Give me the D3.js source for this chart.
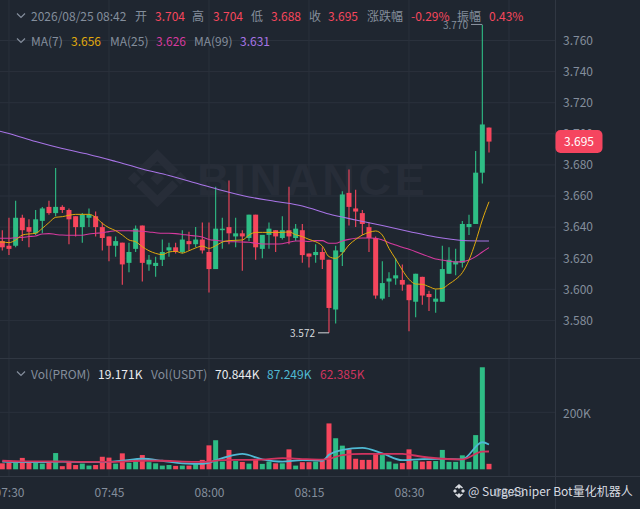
<!DOCTYPE html>
<html><head><meta charset="utf-8">
<script src="https://cdn.jsdelivr.net/npm/d3@7"></script>
<style>
html,body{margin:0;padding:0;background:#1f2630;overflow:hidden}
svg{display:block}
text{font-family:"Noto Sans CJK SC","Noto Sans",sans-serif}
.axis path,.axis line{display:none}
</style></head><body><svg id="c" width="640" height="509"></svg>
<script>
const opens=[3.631,3.628,3.628,3.646,3.640,3.636,3.644,3.653,3.649,3.653,3.651,3.647,3.640,3.646,3.647,3.640,3.634,3.628,3.630,3.617,3.626,3.641,3.616,3.615,3.619,3.625,3.627,3.624,3.631,3.629,3.632,3.624,3.613,3.638,3.640,3.634,3.636,3.633,3.648,3.626,3.635,3.638,3.633,3.638,3.633,3.638,3.623,3.622,3.624,3.619,3.587,3.624,3.662,3.652,3.649,3.640,3.633,3.594,3.605,3.607,3.606,3.603,3.592,3.608,3.597,3.592,3.592,3.610,3.616,3.617,3.640,3.642,3.675,3.704];
const highs=[3.638,3.646,3.657,3.648,3.645,3.651,3.653,3.657,3.678,3.654,3.652,3.647,3.649,3.652,3.650,3.643,3.634,3.634,3.630,3.630,3.641,3.641,3.622,3.621,3.632,3.630,3.630,3.638,3.637,3.640,3.643,3.643,3.666,3.646,3.670,3.646,3.638,3.648,3.648,3.635,3.643,3.638,3.647,3.666,3.642,3.642,3.623,3.629,3.627,3.619,3.628,3.663,3.677,3.664,3.651,3.643,3.634,3.618,3.611,3.620,3.616,3.603,3.610,3.608,3.599,3.600,3.628,3.627,3.626,3.644,3.648,3.689,3.770,3.704];
const lows=[3.625,3.622,3.627,3.631,3.627,3.635,3.636,3.648,3.647,3.649,3.629,3.634,3.630,3.640,3.634,3.625,3.618,3.621,3.603,3.611,3.624,3.605,3.612,3.608,3.615,3.621,3.623,3.623,3.625,3.627,3.623,3.598,3.613,3.626,3.629,3.627,3.612,3.631,3.619,3.620,3.626,3.624,3.632,3.629,3.631,3.617,3.614,3.617,3.613,3.572,3.578,3.615,3.641,3.640,3.635,3.624,3.594,3.593,3.595,3.603,3.599,3.573,3.582,3.590,3.586,3.585,3.592,3.610,3.609,3.614,3.635,3.642,3.668,3.688];
const closes=[3.627,3.626,3.646,3.638,3.637,3.645,3.652,3.649,3.653,3.651,3.645,3.640,3.648,3.648,3.640,3.633,3.628,3.631,3.616,3.624,3.639,3.617,3.619,3.617,3.624,3.627,3.624,3.632,3.629,3.632,3.625,3.613,3.639,3.639,3.636,3.636,3.634,3.648,3.627,3.635,3.639,3.634,3.638,3.634,3.639,3.622,3.621,3.624,3.619,3.588,3.625,3.661,3.653,3.650,3.642,3.633,3.596,3.604,3.607,3.609,3.603,3.593,3.610,3.596,3.595,3.594,3.613,3.619,3.618,3.642,3.642,3.675,3.706,3.695];
const volumes=[21,23,27,40,23,25,20,25,57,11,25,15,20,13,15,44,41,20,56,23,27,50,25,21,13,15,12,13,13,18,33,84,102,27,68,29,26,20,33,19,27,21,21,70,13,25,25,27,29,161,109,83,70,37,33,33,53,50,27,20,22,70,30,27,29,29,68,26,26,49,26,120,358,19.171];
// price moving averages, one value per minute from 07:28 (the first is off-screen)
const ma7=[3.6304,3.6304,3.6300,3.6317,3.6349,3.6356,3.6360,3.6392,3.6429,3.6463,3.6467,3.6476,3.6482,3.6482,3.6482,3.6463,3.6424,3.6396,3.6377,3.6349,3.6317,3.6306,3.6274,3.6248,3.6231,3.6223,3.6240,3.6244,3.6233,3.6248,3.6266,3.6278,3.6263,3.6280,3.6304,3.6313,3.6315,3.6317,3.6349,3.6366,3.6366,3.6366,3.6366,3.6366,3.6369,3.6351,3.6339,3.6321,3.6306,3.6278,3.6210,3.6199,3.6231,3.6285,3.6321,3.6349,3.6366,3.6375,3.6349,3.6263,3.6195,3.6124,3.6064,3.6034,3.6032,3.6017,3.6002,3.6006,3.6034,3.6064,3.6107,3.6188,3.6306,3.6446,3.6563];
const ma25=[3.6328,3.6328,3.6328,3.6332,3.6334,3.6339,3.6343,3.6356,3.6358,3.6353,3.6349,3.6347,3.6347,3.6347,3.6356,3.6360,3.6364,3.6371,3.6377,3.6377,3.6377,3.6375,3.6373,3.6369,3.6364,3.6360,3.6360,3.6358,3.6353,3.6347,3.6343,3.6336,3.6321,3.6315,3.6311,3.6306,3.6306,3.6304,3.6302,3.6296,3.6291,3.6291,3.6291,3.6293,3.6302,3.6311,3.6311,3.6308,3.6313,3.6313,3.6296,3.6296,3.6311,3.6321,3.6328,3.6330,3.6330,3.6328,3.6317,3.6300,3.6285,3.6270,3.6257,3.6242,3.6225,3.6210,3.6195,3.6188,3.6180,3.6176,3.6178,3.6188,3.6210,3.6240,3.6268];
// long average, read every fourth minute from 07:26
const ma99=[3.7044,3.7002,3.6950,3.6905,3.6867,3.6822,3.6774,3.6732,3.6684,3.6635,3.6594,3.6565,3.6536,3.6484,3.6446,3.6410,3.6372,3.6336,3.6314,3.6310];
// volume averages (thousands), read every third minute from 07:29, then the last minute
const volMaMinutes=[0,3,6,9,12,15,18,21,24,27,30,33,36,39,42,45,48,49,51,54,57,60,63,66,69,72,73];
const volMa7=[27,25,25,27,25,25,30,37,30,21,19,39,54,35,27,32,30,51,68,75,56,32,36,37,35,95,87.249];
const volMa25=[30,28,28,27,26,26,27,30,30,27,26,32,33,34,39,36,34,37,50,54,54,54,44,37,35,62,62.385];
const priceTicks=[3.58,3.60,3.62,3.64,3.66,3.68,3.70,3.72,3.74,3.76];
const volTicks=[200];
const timeTickLabels=["07:30","07:45","08:00","08:15","08:30","08:45"];
const axisW=555,volBase=469.3;

const minute=m=>new Date(Date.UTC(2026,7,25,7,29+m));
const x=d3.scaleUtc().domain([minute(0),minute(73)]).range([2.3,489]);
const y=d3.scaleLinear().domain([3.58,3.76]).range([320.4,40.5]);
const v=d3.scaleLinear().domain([0,200]).range([volBase,412.3]);
const timeTicks=timeTickLabels.map(s=>{const[h,mm]=s.split(":").map(Number);return new Date(Date.UTC(2026,7,25,h,mm));});

const svg=d3.select("#c");
const GRID="#2a313c",DIV="#303742",GREY="#848e9c",RED="#f6465d",GREEN="#2ebd85";
svg.append("rect").attr("width",640).attr("height",509).attr("fill","#1f2630");
svg.append("defs").append("clipPath").attr("id","clip").append("rect").attr("width",axisW).attr("height",477);

// grid
const grid=svg.append("g").attr("fill","none").attr("stroke",GRID).attr("stroke-width",1);
priceTicks.forEach(t=>grid.append("line").attr("x1",0).attr("x2",axisW).attr("y1",y(t)).attr("y2",y(t)));
volTicks.forEach(t=>grid.append("line").attr("x1",0).attr("x2",axisW).attr("y1",v(t)).attr("y2",v(t)));
timeTicks.forEach(t=>grid.append("line").attr("x1",x(t)).attr("x2",x(t)).attr("y1",0).attr("y2",477));
const dv=svg.append("g").attr("stroke",DIV).attr("stroke-width",1);
dv.append("line").attr("x1",0).attr("x2",640).attr("y1",358.5).attr("y2",358.5);
dv.append("line").attr("x1",0).attr("x2",640).attr("y1",476.5).attr("y2",476.5);
dv.append("line").attr("x1",555.5).attr("x2",555.5).attr("y1",0).attr("y2",509);

// Binance watermark
const wm=svg.append("g").attr("fill","#272d38");
const logo=wm.append("g").attr("transform","translate(157.3,178.3)");
logo.append("path").attr("d","M0 -7L7 0L0 7L-7 0Z");
logo.append("path").attr("d","M0 -29L21 -8L15 -2L0 -17L-15 -2L-21 -8Z");
logo.append("path").attr("d","M0 29L21 8L15 2L0 17L-15 2L-21 8Z");
logo.append("path").attr("d","M-29.5 0L-23 -6.5L-16.5 0L-23 6.5Z");
logo.append("path").attr("d","M29.5 0L23 -6.5L16.5 0L23 6.5Z");
wm.append("text").attr("x",197).attr("y",195).attr("font-size",45).attr("font-weight",700).attr("letter-spacing",3.8)
  .style("font-family","'Liberation Sans',sans-serif").text("BINANCE");

const plot=svg.append("g").attr("clip-path","url(#clip)");
const idx=d3.range(opens.length);
const up=i=>closes[i]>=opens[i];
const col=i=>up(i)?GREEN:RED;

// volume bars
plot.append("g").selectAll("rect").data(idx).join("rect")
  .attr("x",i=>x(minute(i))-2.5).attr("width",5)
  .attr("y",i=>v(volumes[i])).attr("height",i=>volBase-v(volumes[i])).attr("fill",col);
// wicks & bodies
plot.append("g").selectAll("line").data(idx).join("line")
  .attr("x1",i=>x(minute(i))).attr("x2",i=>x(minute(i)))
  .attr("y1",i=>y(highs[i])).attr("y2",i=>y(lows[i])).attr("stroke",col).attr("stroke-width",1.1);
plot.append("g").selectAll("rect").data(idx).join("rect")
  .attr("x",i=>x(minute(i))-2.5).attr("width",5)
  .attr("y",i=>y(Math.max(opens[i],closes[i])))
  .attr("height",i=>Math.max(1,Math.abs(y(opens[i])-y(closes[i])))).attr("fill",col);

// lines
const lineOf=(ys,mFn,scale)=>d3.line().x((d,i)=>x(minute(mFn(i)))).y(d=>scale(d)).curve(d3.curveMonotoneX)(ys);
const addLine=(ys,mFn,scale,c,w)=>plot.append("path").attr("d",lineOf(ys,mFn,scale)).attr("fill","none").attr("stroke",c).attr("stroke-width",w);
addLine(ma99,i=>-3+4*i,y,"#a874e6",1.05);
addLine(ma25,i=>i-1,y,"#d63a9f",1.05);
addLine(ma7,i=>i-1,y,"#e0a90d",1);
addLine(volMa7,i=>volMaMinutes[i],v,"#4fb9d3",1.8);
addLine(volMa25,i=>volMaMinutes[i],v,"#d1345f",1.8);

// axes
const ax=svg.append("g").attr("class","axis").attr("transform","translate(563,0)")
  .call(d3.axisRight(y).tickValues(priceTicks).tickSize(0).tickPadding(0).tickFormat(d3.format(".3f")));
const ax2=svg.append("g").attr("class","axis").attr("transform","translate(563,1)")
  .call(d3.axisRight(v).tickValues(volTicks).tickSize(0).tickPadding(0).tickFormat(d=>d+"K"));
const ax3=svg.append("g").attr("class","axis").attr("transform","translate(0,488)")
  .call(d3.axisBottom(x).tickValues(timeTicks).tickSize(0).tickPadding(0).tickFormat(d3.utcFormat("%H:%M")));
[ax,ax2,ax3].forEach(a=>{a.attr("font-size",null).attr("font-family",null);a.selectAll("text").attr("fill",GREY).attr("font-size",12).style("font-family","'Noto Sans CJK SC','Noto Sans',sans-serif");});

// high / low markers
const mark=svg.append("g");
mark.append("line").attr("x1",471).attr("x2",x(minute(72))).attr("y1",y(3.770)-.5).attr("y2",y(3.770)-.5).attr("stroke","#8f96a3");
mark.append("text").attr("x",468).attr("y",y(3.770)+4).attr("text-anchor","end").attr("font-size",10).attr("fill",GREY).text("3.770");
mark.append("line").attr("x1",318).attr("x2",x(minute(49))).attr("y1",y(3.572)).attr("y2",y(3.572)).attr("stroke","#d5d8dc");
mark.append("text").attr("x",315).attr("y",y(3.572)+4).attr("text-anchor","end").attr("font-size",10).attr("fill","#d5d8dc").text("3.572");

// price tag
svg.append("rect").attr("x",555.5).attr("y",y(3.695)-11.5).attr("width",47).attr("height",23).attr("rx",5).attr("fill","#f5455f");
svg.append("text").attr("x",579).attr("y",y(3.695)+4.5).attr("text-anchor","middle").attr("font-size",12).attr("fill","#fff").text("3.695");

// legends
const T=(xp,yp,s,c)=>svg.append("text").attr("x",xp).attr("y",yp).attr("font-size",12).attr("fill",c).text(s);
const chev=(yp)=>svg.append("path").attr("d",`M17 ${yp-2.5}L21 ${yp+1.5}L25 ${yp-2.5}`).attr("fill","none").attr("stroke",GREY).attr("stroke-width",1.2);
chev(16);chev(41);chev(374);
[[31,"2026/08/25 08:42",GREY],[135,"开",GREY],[155,"3.704",RED],[192,"高",GREY],[213,"3.704",RED],[251,"低",GREY],[271,"3.688",RED],[309,"收",GREY],[328,"3.695",RED],[367,"涨跌幅",GREY],[411,"-0.29%",RED],[457,"振幅",GREY],[489,"0.43%",RED]].forEach(a=>T(a[0],21,a[1],a[2]));
[[31,"MA(7)",GREY],[71,"3.656","#e0a90d"],[110,"MA(25)",GREY],[156,"3.626","#d63a9f"],[194,"MA(99)",GREY],[240,"3.631","#a874e6"]].forEach(a=>T(a[0],46,a[1],a[2]));
[[31,"Vol(PROM)",GREY],[98,"19.171K","#eaecef"],[151,"Vol(USDT)",GREY],[215,"70.844K","#eaecef"],[267,"87.249K","#4fb9d3"],[320,"62.385K","#d1345f"]].forEach(a=>T(a[0],379,a[1],a[2]));

// attribution
const att=svg.append("g");
const ic=att.append("g").attr("transform","translate(459,491)").attr("fill","#d8dbe0");
[[0,-4],[-4,0],[4,0],[0,4]].forEach(([a,b])=>ic.append("path").attr("d",`M${a} ${b-2}L${a+2} ${b}L${a} ${b+2}L${a-2} ${b}Z`));
ic.append("path").attr("d","M0 -7L4 -3.5L3 -2.5L0 -5L-3 -2.5L-4 -3.5Z");
ic.append("path").attr("d","M0 7L4 3.5L3 2.5L0 5L-3 2.5L-4 3.5Z");
T(468,496,"@ SurgeSniper Bot量化机器人","#d8dbe0");
</script></body></html>
